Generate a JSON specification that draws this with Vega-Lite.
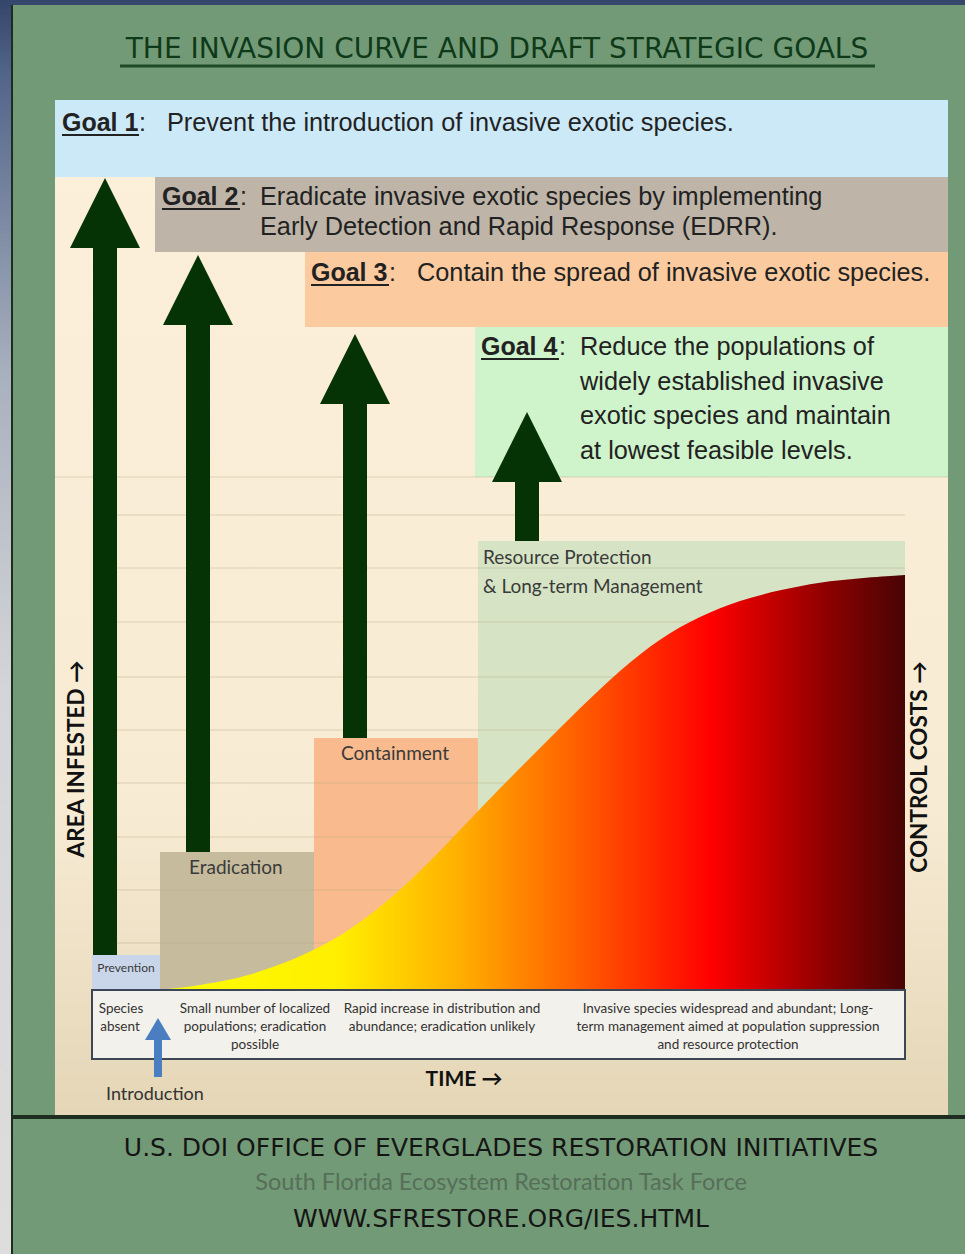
{
  "$schema": "https://vega.github.io/schema/vega-lite/v6.json",
  "width": 965,
  "height": 1254,
  "autosize": {"type": "fit", "contains": "padding"},
  "padding": 0,
  "background": "#d9d9d9",
  "config": {"view": {"stroke": null}},
  "datasets": {
    "backdrop": [{"x": 0, "x2": 965, "y": 0, "y2": 1254}],
    "frame": [{"x": 12, "x2": 965, "y": 5, "y2": 1254}],
    "panel": [{"x": 55, "x2": 948, "y": 100, "y2": 1115}],
    "boxes": [
      {"part": "goal1", "x": 55, "x2": 948, "y": 100, "y2": 177},
      {"part": "goal2", "x": 155, "x2": 948, "y": 177, "y2": 252},
      {"part": "goal3", "x": 305, "x2": 948, "y": 252, "y2": 327},
      {"part": "goal4", "x": 475, "x2": 948, "y": 327, "y2": 477},
      {"part": "prevention", "x": 92, "x2": 160, "y": 955, "y2": 990},
      {"part": "eradication", "x": 160, "x2": 314, "y": 852, "y2": 990},
      {"part": "containment", "x": 314, "x2": 478, "y": 738, "y2": 990},
      {"part": "resource", "x": 478, "x2": 905, "y": 541, "y2": 990}
    ],
    "grid": [
      {"x": 55, "x2": 948, "y": 477},
      {"x": 93, "x2": 905, "y": 515},
      {"x": 93, "x2": 905, "y": 568},
      {"x": 93, "x2": 905, "y": 622},
      {"x": 93, "x2": 905, "y": 677},
      {"x": 93, "x2": 905, "y": 730},
      {"x": 93, "x2": 905, "y": 783},
      {"x": 93, "x2": 905, "y": 837},
      {"x": 93, "x2": 905, "y": 890},
      {"x": 93, "x2": 905, "y": 943}
    ],
    "curve": [
      {"x": 160, "y": 990}, {"x": 180, "y": 988}, {"x": 200, "y": 985},
      {"x": 230, "y": 980}, {"x": 260, "y": 972}, {"x": 300, "y": 957},
      {"x": 340, "y": 937}, {"x": 380, "y": 908}, {"x": 420, "y": 872},
      {"x": 460, "y": 830}, {"x": 500, "y": 788}, {"x": 540, "y": 748},
      {"x": 580, "y": 708}, {"x": 620, "y": 670}, {"x": 660, "y": 638},
      {"x": 700, "y": 616}, {"x": 740, "y": 600}, {"x": 780, "y": 590},
      {"x": 820, "y": 582}, {"x": 860, "y": 578}, {"x": 905, "y": 575}
    ],
    "shafts": [
      {"x": 93, "x2": 117, "y": 245, "y2": 955},
      {"x": 186, "x2": 210, "y": 322, "y2": 852},
      {"x": 343, "x2": 367, "y": 400, "y2": 738},
      {"x": 515, "x2": 539, "y": 479, "y2": 541}
    ],
    "heads": [
      {"x": 105, "y": 213},
      {"x": 198, "y": 290},
      {"x": 355, "y": 369},
      {"x": 527, "y": 447}
    ],
    "descbox": [{"x": 92, "x2": 905, "y": 990, "y2": 1059}],
    "introShaft": [{"x": 154, "x2": 162, "y": 1036, "y2": 1077}],
    "introHead": [{"x": 158, "y": 1029}],
    "footerLine": [{"x": 12, "x2": 965, "y": 1115, "y2": 1119}],
    "leftLine": [{"x": 11, "x2": 13, "y": 5, "y2": 1254}],
    "titleRule": [{"x": 120, "x2": 875, "y": 66}],
    "goalRules": [
      {"x": 62, "x2": 139, "y": 135},
      {"x": 162, "x2": 240, "y": 209},
      {"x": 311, "x2": 389, "y": 285},
      {"x": 481, "x2": 559, "y": 359}
    ],
    "title": [{"text": "THE INVASION CURVE AND DRAFT STRATEGIC GOALS", "x": 497, "y": 50}],
    "goalLabels": [
      {"text": "Goal 1", "x": 62, "y": 123},
      {"text": "Goal 2", "x": 162, "y": 197},
      {"text": "Goal 3", "x": 311, "y": 273},
      {"text": "Goal 4", "x": 481, "y": 347}
    ],
    "goalColons": [
      {"text": ":", "x": 139, "y": 123},
      {"text": ":", "x": 240, "y": 197},
      {"text": ":", "x": 389, "y": 273},
      {"text": ":", "x": 559, "y": 347}
    ],
    "goalText": [
      {"text": "Prevent the introduction of invasive exotic species.", "x": 167, "y": 123},
      {"text": "Eradicate invasive exotic species by implementing", "x": 260, "y": 197},
      {"text": "Early Detection and Rapid Response (EDRR).", "x": 260, "y": 227},
      {"text": "Contain the spread of invasive exotic species.", "x": 417, "y": 273},
      {"text": "Reduce the populations of", "x": 580, "y": 347},
      {"text": "widely established invasive", "x": 580, "y": 382},
      {"text": "exotic species and maintain", "x": 580, "y": 416},
      {"text": "at lowest feasible levels.", "x": 580, "y": 451}
    ],
    "stageLabels": [
      {"text": "Eradication", "x": 189, "y": 868},
      {"text": "Containment", "x": 341, "y": 754},
      {"text": "Resource Protection", "x": 483, "y": 558},
      {"text": "& Long-term Management", "x": 483, "y": 587}
    ],
    "prevLabel": [{"text": "Prevention", "x": 126, "y": 968}],
    "descText": [
      {"text": "Species", "x": 121, "y": 1009},
      {"text": "absent", "x": 120, "y": 1027},
      {"text": "Small number of localized", "x": 255, "y": 1009},
      {"text": "populations; eradication", "x": 255, "y": 1027},
      {"text": "possible", "x": 255, "y": 1045},
      {"text": "Rapid increase in distribution and", "x": 442, "y": 1009},
      {"text": "abundance; eradication unlikely", "x": 442, "y": 1027},
      {"text": "Invasive species widespread and abundant; Long-", "x": 728, "y": 1009},
      {"text": "term management aimed at population suppression", "x": 728, "y": 1027},
      {"text": "and resource protection", "x": 728, "y": 1045}
    ],
    "sideLabels": [
      {"text": "AREA INFESTED →", "x": 77, "y": 759},
      {"text": "CONTROL COSTS →", "x": 920, "y": 767}
    ],
    "timeLabel": [{"text": "TIME →", "x": 464, "y": 1080}],
    "introLabel": [{"text": "Introduction", "x": 106, "y": 1095}],
    "footer1": [{"text": "U.S. DOI OFFICE OF EVERGLADES RESTORATION INITIATIVES", "x": 501, "y": 1148}],
    "footer2": [{"text": "South Florida Ecosystem Restoration Task Force", "x": 501, "y": 1183}],
    "footer3": [{"text": "WWW.SFRESTORE.ORG/IES.HTML", "x": 501, "y": 1219}]
  },
  "layer": [
    {
      "data": {"name": "backdrop"},
      "mark": {"type": "rect", "color": {"gradient": "linear", "x1": 0, "y1": 0, "x2": 0, "y2": 1, "stops": [
        {"offset": 0, "color": "#34476a"}, {"offset": 0.06, "color": "#52658a"},
        {"offset": 0.3, "color": "#a9b1be"}, {"offset": 0.55, "color": "#d4d5d8"}, {"offset": 1, "color": "#dddddd"}]}},
      "encoding": {
        "x": {"field": "x", "type": "quantitative", "scale": {"domain": [0, 965], "nice": false, "zero": false}, "axis": null},
        "x2": {"field": "x2"},
        "y": {"field": "y", "type": "quantitative", "scale": {"domain": [0, 1254], "reverse": true, "nice": false, "zero": false}, "axis": null},
        "y2": {"field": "y2"}
      }
    },
    {
      "data": {"name": "frame"},
      "mark": {"type": "rect", "color": "#739a76"},
      "encoding": {
        "x": {"field": "x", "type": "quantitative", "axis": null},
        "x2": {"field": "x2"},
        "y": {"field": "y", "type": "quantitative", "axis": null},
        "y2": {"field": "y2"}
      }
    },
    {
      "data": {"name": "leftLine"},
      "mark": {"type": "rect", "color": "#1d2e20"},
      "encoding": {
        "x": {"field": "x", "type": "quantitative", "axis": null},
        "x2": {"field": "x2"},
        "y": {"field": "y", "type": "quantitative", "axis": null},
        "y2": {"field": "y2"}
      }
    },
    {
      "data": {"name": "panel"},
      "mark": {"type": "rect", "color": {"gradient": "linear", "x1": 0, "y1": 0, "x2": 0, "y2": 1, "stops": [
        {"offset": 0, "color": "#fcf0da"}, {"offset": 0.7, "color": "#f7ebd4"}, {"offset": 1, "color": "#e4d6b6"}]}},
      "encoding": {
        "x": {"field": "x", "type": "quantitative", "axis": null},
        "x2": {"field": "x2"},
        "y": {"field": "y", "type": "quantitative", "axis": null},
        "y2": {"field": "y2"}
      }
    },
    {
      "data": {"name": "boxes"},
      "mark": {"type": "rect"},
      "encoding": {
        "x": {"field": "x", "type": "quantitative", "axis": null},
        "x2": {"field": "x2"},
        "y": {"field": "y", "type": "quantitative", "axis": null},
        "y2": {"field": "y2"},
        "color": {"field": "part", "type": "nominal", "legend": null, "scale": {
          "domain": ["goal1", "goal2", "goal3", "goal4", "prevention", "eradication", "containment", "resource"],
          "range": ["#cce9f8", "#beb5a8", "#fbca9e", "#cff3cb", "#c9d6ea", "#c6bc9d", "#f9bb8d", "#d6e4c5"]}}
      }
    },
    {
      "data": {"name": "grid"},
      "mark": {"type": "rule", "color": "#b9a886", "opacity": 0.45, "strokeWidth": 1},
      "encoding": {
        "x": {"field": "x", "type": "quantitative", "axis": null},
        "x2": {"field": "x2"},
        "y": {"field": "y", "type": "quantitative", "axis": null}
      }
    },
    {
      "data": {"name": "curve"},
      "mark": {"type": "area", "interpolate": "basis", "color": {"gradient": "linear", "x1": 0, "y1": 0, "x2": 1, "y2": 0, "stops": [
        {"offset": 0, "color": "#ffff00"}, {"offset": 0.24, "color": "#ffee00"},
        {"offset": 0.4, "color": "#ffb000"}, {"offset": 0.55, "color": "#ff6400"},
        {"offset": 0.74, "color": "#ff0000"}, {"offset": 0.88, "color": "#980000"}, {"offset": 1, "color": "#480404"}]}},
      "encoding": {
        "x": {"field": "x", "type": "quantitative", "axis": null},
        "y": {"field": "y", "type": "quantitative", "axis": null},
        "y2": {"datum": 990}
      }
    },
    {
      "data": {"name": "shafts"},
      "mark": {"type": "rect", "color": "#053306"},
      "encoding": {
        "x": {"field": "x", "type": "quantitative", "axis": null},
        "x2": {"field": "x2"},
        "y": {"field": "y", "type": "quantitative", "axis": null},
        "y2": {"field": "y2"}
      }
    },
    {
      "data": {"name": "heads"},
      "mark": {"type": "point", "shape": "M0,-1L-1,1L1,1Z", "size": 4900, "filled": true, "opacity": 1, "color": "#053306"},
      "encoding": {
        "x": {"field": "x", "type": "quantitative", "axis": null},
        "y": {"field": "y", "type": "quantitative", "axis": null}
      }
    },
    {
      "data": {"name": "descbox"},
      "mark": {"type": "rect", "fill": "#f3f1eb", "stroke": "#3c4656", "strokeWidth": 2},
      "encoding": {
        "x": {"field": "x", "type": "quantitative", "axis": null},
        "x2": {"field": "x2"},
        "y": {"field": "y", "type": "quantitative", "axis": null},
        "y2": {"field": "y2"}
      }
    },
    {
      "data": {"name": "introShaft"},
      "mark": {"type": "rect", "color": "#4a7ec0"},
      "encoding": {
        "x": {"field": "x", "type": "quantitative", "axis": null},
        "x2": {"field": "x2"},
        "y": {"field": "y", "type": "quantitative", "axis": null},
        "y2": {"field": "y2"}
      }
    },
    {
      "data": {"name": "introHead"},
      "mark": {"type": "point", "shape": "M0,-0.85L-1,0.85L1,0.85Z", "size": 676, "filled": true, "opacity": 1, "color": "#4a7ec0"},
      "encoding": {
        "x": {"field": "x", "type": "quantitative", "axis": null},
        "y": {"field": "y", "type": "quantitative", "axis": null}
      }
    },
    {
      "data": {"name": "footerLine"},
      "mark": {"type": "rect", "color": "#1d2e20"},
      "encoding": {
        "x": {"field": "x", "type": "quantitative", "axis": null},
        "x2": {"field": "x2"},
        "y": {"field": "y", "type": "quantitative", "axis": null},
        "y2": {"field": "y2"}
      }
    },
    {
      "data": {"name": "titleRule"},
      "mark": {"type": "rule", "color": "#1f4a28", "strokeWidth": 3},
      "encoding": {
        "x": {"field": "x", "type": "quantitative", "axis": null},
        "x2": {"field": "x2"},
        "y": {"field": "y", "type": "quantitative", "axis": null}
      }
    },
    {
      "data": {"name": "goalRules"},
      "mark": {"type": "rule", "color": "#222222", "strokeWidth": 2},
      "encoding": {
        "x": {"field": "x", "type": "quantitative", "axis": null},
        "x2": {"field": "x2"},
        "y": {"field": "y", "type": "quantitative", "axis": null}
      }
    },
    {
      "data": {"name": "title"},
      "mark": {"type": "text", "font": "DejaVu Sans", "fontSize": 28, "color": "#0f3a1a", "align": "center", "baseline": "middle"},
      "encoding": {
        "x": {"field": "x", "type": "quantitative", "axis": null},
        "y": {"field": "y", "type": "quantitative", "axis": null},
        "text": {"field": "text"}
      }
    },
    {
      "data": {"name": "goalLabels"},
      "mark": {"type": "text", "font": "Liberation Sans", "fontWeight": "bold", "fontSize": 25, "color": "#222222", "align": "left", "baseline": "middle"},
      "encoding": {
        "x": {"field": "x", "type": "quantitative", "axis": null},
        "y": {"field": "y", "type": "quantitative", "axis": null},
        "text": {"field": "text"}
      }
    },
    {
      "data": {"name": "goalColons"},
      "mark": {"type": "text", "font": "Liberation Sans", "fontSize": 25, "color": "#222222", "align": "left", "baseline": "middle"},
      "encoding": {
        "x": {"field": "x", "type": "quantitative", "axis": null},
        "y": {"field": "y", "type": "quantitative", "axis": null},
        "text": {"field": "text"}
      }
    },
    {
      "data": {"name": "goalText"},
      "mark": {"type": "text", "font": "Liberation Sans", "fontSize": 25.3, "color": "#222222", "align": "left", "baseline": "middle"},
      "encoding": {
        "x": {"field": "x", "type": "quantitative", "axis": null},
        "y": {"field": "y", "type": "quantitative", "axis": null},
        "text": {"field": "text"}
      }
    },
    {
      "data": {"name": "stageLabels"},
      "mark": {"type": "text", "font": "Lato", "fontSize": 19, "color": "#3a3a3a", "align": "left", "baseline": "middle"},
      "encoding": {
        "x": {"field": "x", "type": "quantitative", "axis": null},
        "y": {"field": "y", "type": "quantitative", "axis": null},
        "text": {"field": "text"}
      }
    },
    {
      "data": {"name": "prevLabel"},
      "mark": {"type": "text", "font": "Lato", "fontSize": 12, "color": "#3a3a3a", "align": "center", "baseline": "middle"},
      "encoding": {
        "x": {"field": "x", "type": "quantitative", "axis": null},
        "y": {"field": "y", "type": "quantitative", "axis": null},
        "text": {"field": "text"}
      }
    },
    {
      "data": {"name": "descText"},
      "mark": {"type": "text", "font": "Lato", "fontSize": 13.5, "color": "#333333", "align": "center", "baseline": "middle"},
      "encoding": {
        "x": {"field": "x", "type": "quantitative", "axis": null},
        "y": {"field": "y", "type": "quantitative", "axis": null},
        "text": {"field": "text"}
      }
    },
    {
      "data": {"name": "sideLabels"},
      "mark": {"type": "text", "font": "Lato", "fontWeight": "bold", "fontSize": 22.5, "color": "#111111", "align": "center", "baseline": "middle", "angle": 270},
      "encoding": {
        "x": {"field": "x", "type": "quantitative", "axis": null},
        "y": {"field": "y", "type": "quantitative", "axis": null},
        "text": {"field": "text"}
      }
    },
    {
      "data": {"name": "timeLabel"},
      "mark": {"type": "text", "font": "Lato", "fontWeight": "bold", "fontSize": 21, "color": "#111111", "align": "center", "baseline": "middle"},
      "encoding": {
        "x": {"field": "x", "type": "quantitative", "axis": null},
        "y": {"field": "y", "type": "quantitative", "axis": null},
        "text": {"field": "text"}
      }
    },
    {
      "data": {"name": "introLabel"},
      "mark": {"type": "text", "font": "Lato", "fontSize": 18, "color": "#333333", "align": "left", "baseline": "middle"},
      "encoding": {
        "x": {"field": "x", "type": "quantitative", "axis": null},
        "y": {"field": "y", "type": "quantitative", "axis": null},
        "text": {"field": "text"}
      }
    },
    {
      "data": {"name": "footer1"},
      "mark": {"type": "text", "font": "DejaVu Sans", "fontSize": 25, "color": "#151515", "align": "center", "baseline": "middle"},
      "encoding": {
        "x": {"field": "x", "type": "quantitative", "axis": null},
        "y": {"field": "y", "type": "quantitative", "axis": null},
        "text": {"field": "text"}
      }
    },
    {
      "data": {"name": "footer2"},
      "mark": {"type": "text", "font": "Lato", "fontSize": 23.5, "color": "#566f5a", "align": "center", "baseline": "middle"},
      "encoding": {
        "x": {"field": "x", "type": "quantitative", "axis": null},
        "y": {"field": "y", "type": "quantitative", "axis": null},
        "text": {"field": "text"}
      }
    },
    {
      "data": {"name": "footer3"},
      "mark": {"type": "text", "font": "DejaVu Sans", "fontSize": 25, "color": "#151515", "align": "center", "baseline": "middle"},
      "encoding": {
        "x": {"field": "x", "type": "quantitative", "axis": null},
        "y": {"field": "y", "type": "quantitative", "axis": null},
        "text": {"field": "text"}
      }
    }
  ]
}
